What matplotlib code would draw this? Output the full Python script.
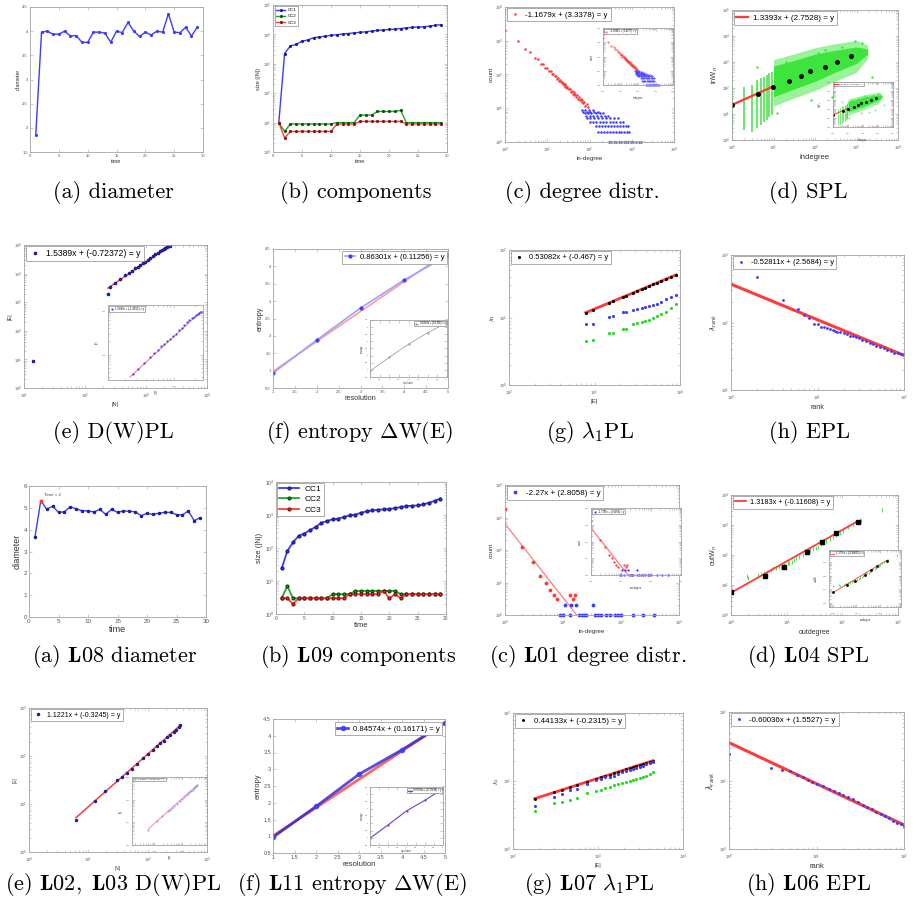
import numpy as np
import matplotlib
matplotlib.use("Agg")
import matplotlib.pyplot as plt
from matplotlib.ticker import FuncFormatter, NullFormatter

plt.rcParams["font.family"] = ["Liberation Sans", "DejaVu Sans"]

W, H = 916, 911
BLUE = "#3c3cff"
DARK = "#1c1c8a"
GREEN = "#1fa81f"
LIME = "#3ce43c"
RED = "#ff3a3a"
AXC = "#a3a3a3"

# ---------------- data, top block ----------------
time = np.arange(1, 30)
diam_top = [1.85, 3.98, 4.0, 3.94, 3.94, 4.0, 3.9, 3.91, 3.77, 3.77, 3.98, 3.98, 3.96, 3.77, 4.0,
            3.97, 4.18, 4.0, 3.89, 3.98, 3.92, 4.0, 3.98, 4.36, 3.98, 3.97, 4.08, 3.9, 4.08]
cc1_top = [10, 2240, 4070, 4570, 5890, 6460, 7760, 8130, 8710, 9330, 9770, 10230, 10720, 11220, 11750,
           12300, 12880, 13800, 14130, 14790, 15140, 15850, 16600, 17380, 17780, 18200, 19050, 20420, 21380]
cc2_top = [10, 5, 9, 9, 9, 9, 9, 9, 9, 9, 10, 10, 10, 10, 18, 18, 18, 24, 24, 24, 24, 26, 10, 10, 10, 10, 10, 10, 10]
cc3_top = [10, 3, 5, 5, 5, 5, 5, 5, 5, 5, 9, 9, 9, 9, 11, 11, 11, 11, 11, 11, 11, 11, 9, 9, 9, 9, 9, 9, 9]

# in-degree distribution (fitted part + tail)
deg_top = [1, 2, 3, 4, 5, 6, 7, 8, 9, 10, 11, 12, 13, 14, 15, 16, 17, 18, 19, 20, 21, 22, 23, 24, 25,
           26, 27, 28, 29, 30, 32, 34, 36, 38, 40, 42, 44, 46, 48, 50, 53, 56, 59, 62, 65, 68, 72, 76, 80, 85, 90]
cnt_top = [2100, 1000, 560, 450, 310, 280, 210, 200, 160, 155, 125, 128, 100, 106, 88, 90, 76, 79, 66, 70,
           60, 62, 52, 57, 48, 52, 44, 47, 40, 44, 36, 38, 31, 33, 27, 30, 24, 27, 22, 25, 19, 22, 17, 19,
           15, 18, 14, 15, 12, 13, 11]
tail_levels = [9, 8, 7, 6, 5, 4, 3, 2, 1]
tail_degs = [
    [68, 80, 95, 120],
    [72, 88, 105, 130, 160],
    [78, 92, 110, 140, 175, 210],
    [82, 100, 120, 150, 185, 230, 280],
    [85, 105, 130, 160, 200, 250, 310, 390, 470],
    [100, 120, 145, 175, 210, 250, 300, 360, 430, 520, 620],
    [140, 165, 195, 230, 270, 320, 380, 450, 530, 620, 720, 800],
    [160, 190, 225, 265, 310, 360, 420, 490, 570, 660, 760, 860],
    [290, 330, 380, 430, 490, 560, 640, 730, 830, 950, 1080, 1250, 1450, 1650],
]

# SPL cloud: strips at small degrees, dense core band and a thinner halo round it
strip_x = [1, 2, 3, 4, 5, 6, 7, 8, 9]
strip_lo = [1.0, 2.4, 2.1, 2.8, 3.8, 5.1, 5.9, 7.4, 9.1]
strip_hi = [260, 110, 130, 200, 240, 270, 315, 370, 420]
band_x = [10, 30, 100, 300, 1000, 1860]
band_lo = [46, 90, 180, 400, 890, 2000]
band_hi = [700, 1120, 2000, 2800, 3800, 3160]
halo_lo = [20, 40, 80, 180, 400, 1400]
halo_hi = [1240, 2000, 3550, 5000, 6750, 4500]
out_x = [933, 437, 170, 46, 19.5, 2400, 79, 12, 257, 660, 1350, 3.9, 120]
out_y = [6600, 3890, 2880, 1200, 1023, 275, 35, 10.7, 47, 83, 5250, 660, 2140]
bin_x = [1, 4.3, 9.5, 23.4, 45.7, 77.6, 170, 347, 741]
bin_y = [22.4, 58.9, 112, 186, 288, 447, 661, 1023, 1698]
spl_fit_x = [1, 9.5]
spl_fit_y = [22.4, 112]

# D(W)PL
dw_n = [14, 234, 258, 313, 378, 456, 518, 587, 667, 729, 807, 893, 975, 1065, 1178, 1304, 1425, 1556,
        1679, 1811, 1954, 2084, 2218, 2333, 2455]
dw_e = [9, 1950, 3520, 4600, 6520, 8980, 10840, 12730, 15350, 17540, 20050, 22910, 26240, 29990, 36140,
        41300, 47210, 54080, 60120, 66990, 70630, 78520, 85110, 89740, 94840]
dw_fit_x = [237, 2455]
dw_fit_y = [3090, 95000]

# entropy
res = [1, 2, 3, 4, 5]
ent_top = [0.93, 1.88, 2.8, 3.61, 4.32]
ent_fit_x = [1, 4.8]
ent_fit_y = [0.98, 4.25]

# lambda_1 power law
lam_E = [790, 950, 1490, 1660, 2130, 2330, 2840, 3100, 3560, 3890, 4380, 4880, 5420, 6040, 6860, 7850, 8980]
lam1 = [11.8, 13.0, 16.5, 17.5, 20.0, 20.9, 23.2, 24.4, 26.2, 27.5, 29.2, 31.0, 32.7, 34.7, 37.1, 39.9, 42.8]
lam2 = [7.9, 8.1, 10.1, 10.4, 12.1, 12.1, 13.1, 13.4, 13.9, 14.2, 14.7, 15.2, 15.9, 17.0, 18.5, 20.0, 21.4]
lam3 = [4.47, 4.62, 5.8, 5.9, 6.65, 6.8, 7.9, 8.15, 8.5, 8.8, 9.3, 9.9, 10.5, 11.3, 12.1, 13.6, 15.6]
lam_fit_x = [790, 8980]
lam_fit_y = [11.8, 42.8]

# eigenvalue power law
rank_top = [2, 4, 6, 7, 8, 9, 10, 11, 12, 13, 14, 15, 16, 17, 18, 20, 22, 24, 26, 28, 30, 33, 36, 40,
            44, 48, 53, 58, 64, 70, 77, 85, 92, 100]
eig_top = [467, 215, 158, 129, 115, 95, 95, 87, 85, 82, 79, 77.4, 74.8, 73.1, 71.5, 69.2, 66.8, 63.8,
           62.4, 60.3, 58.2, 55.7, 53.2, 50.2, 47.5, 45.4, 43.4, 41.4, 39.2, 37.4, 35.7, 34.9, 34.5, 34.5]
eig_fit_x = [1, 100]
eig_fit_y = [370, 32.6]

# ---------------- data, bottom block ----------------
diam_bot = [3.65, 5.33, 4.93, 5.08, 4.79, 4.82, 5.05, 4.95, 4.87, 4.86, 4.81, 4.93, 4.70, 4.93, 4.79,
            4.86, 4.84, 4.82, 4.64, 4.75, 4.70, 4.75, 4.79, 4.79, 4.69, 4.67, 4.86, 4.41, 4.55]
cc1_bot = [24, 81, 148, 234, 275, 347, 437, 575, 661, 741, 776, 871, 977, 1023, 1175, 1288, 1380, 1445,
           1479, 1514, 1622, 1738, 1862, 1905, 1950, 2089, 2344, 2692, 3162]
cc2_bot = [3, 7, 3, 3, 3, 3, 3, 3, 3, 4, 4, 4, 4, 5, 5, 5, 5, 5, 5, 5, 5, 4, 4, 4, 4, 4, 4, 4, 4]
cc3_bot = [3, 3, 2, 3, 3, 3, 3, 3, 3, 3, 3, 3, 4, 4, 4, 4, 4, 4, 5, 3, 4, 3, 4, 4, 4, 4, 4, 4, 4]

deg_red_bot = [1, 2, 3, 4, 5, 6, 7, 8, 13, 15, 16]
cnt_red_bot = [1780, 120, 44, 16, 10, 6, 4, 3, 4, 3, 4]
deg_two_bot = [11, 14, 17, 33]
deg_one_bot = [9, 10, 13, 19, 21, 23, 25, 35, 40, 46, 56, 64, 78, 89, 100, 159, 235, 372]
deg_fit_x = [1, 17.2]
deg_fit_y = [640, 1.0]

out_deg = [1, 1.9, 2.06, 3.0, 3.4, 3.9, 4.5, 5.2, 5.6, 6.4, 7.2, 7.9, 9.1, 10.4, 11.2, 12.5, 13.8, 14.8,
           17, 19.5, 22.3, 24, 26.4, 29.5, 33, 36.3, 41.7, 44.8, 51.4, 59, 67.8, 78, 89.5, 103, 126, 156,
           206, 220, 507]
out_w = [16.6, 20, 17.4, 21.4, 23.4, 24.5, 27.5, 31.6, 36.3, 36.3, 38.9, 40.7, 46.8, 52.5, 55, 60.3,
         67.6, 77.6, 87, 100, 115, 129, 148, 155, 166, 191, 229, 257, 302, 331, 389, 468, 550, 631, 832,
         1072, 1479, 1380, 3162]
out_bin_x = [1, 4, 9.1, 23.4, 42.7, 77.6, 190]
out_bin_y = [6.0, 20, 40.7, 123, 263, 550, 1288]
out_fit_x = [1, 190]
out_fit_y = [5.5, 1350]

nodes_bot = [6.2, 12.9, 19, 30.2, 36.3, 44.7, 53.7, 66, 85, 102, 123, 141, 162, 186, 209, 240, 275, 302, 331, 355]
edges_bot = [4.6, 11.5, 18.6, 30.9, 36.3, 43.7, 53.7, 67.6, 89, 110, 135, 158, 186, 209, 245, 275, 316, 355, 398, 437]
ne_fit_x = [6.2, 355]
ne_fit_y = [5.2, 437]

ent_bot = [0.97, 1.89, 2.85, 3.58, 4.38]
ent_fit2_x = [1, 4.85]
ent_fit2_y = [1.01, 4.26]

lam_E2 = [180, 301, 374, 464, 566, 750, 955, 1094, 1219, 1371, 1528, 1718, 1914, 2113, 2360, 2582,
          2825, 3090, 3381, 3707, 4055, 4436]
lam1b = [5.5, 6.8, 7.4, 8.05, 8.7, 9.75, 10.7, 11.3, 11.8, 12.4, 13.0, 13.6, 14.2, 14.8, 15.4, 16.0,
         16.6, 17.2, 17.8, 18.5, 19.2, 19.9]
lam2b = [4.26, 5.8, 6.5, 7.3, 7.7, 8.9, 10.5, 10.7, 11.4, 11.6, 12.0, 12.7, 13.4, 13.9, 14.5, 15.0,
         15.5, 16.2, 16.8, 17.8, 18.4, 19.2]
lam3b = [3.65, 4.76, 4.98, 5.2, 5.7, 6.65, 7.1, 7.4, 7.95, 8.3, 8.6, 9.1, 9.3, 9.6, 9.95, 10.4, 10.7,
         11.1, 11.4, 12.0, 12.7, 13.4]
lam_fit2_x = [180, 4436]
lam_fit2_y = [5.5, 19.9]

rank_bot = [1, 3, 4, 5, 6, 7, 8, 9, 10, 12, 14, 16, 18, 20, 23, 26, 30, 34, 38, 43, 48, 54, 60, 67, 75, 84, 92, 100]
eig_bot = [24, 15.3, 14.0, 13.7, 12.1, 11.1, 10.2, 9.56, 9.04, 8.26, 7.55, 7.06, 6.6, 6.24, 5.77, 5.33,
           4.88, 4.46, 4.12, 3.80, 3.52, 3.25, 3.04, 2.81, 2.60, 2.43, 2.30, 2.17]
eig_fit2_x = [1, 100]
eig_fit2_y = [35.7, 2.25]

captions_top = ["(a) diameter", "(b) components", "(c) degree distr.", "(d) SPL",
                "(e) D(W)PL", r"(f) entropy $\Delta$W(E)", r"(g) $\lambda_1$PL", "(h) EPL"]
captions_bot = [r"(a) $\mathbf{L08}$ diameter", r"(b) $\mathbf{L09}$ components",
                r"(c) $\mathbf{L01}$ degree distr.", r"(d) $\mathbf{L04}$ SPL",
                r"(e) $\mathbf{L02,\ L03}$ D(W)PL", r"(f) $\mathbf{L11}$ entropy $\Delta$W(E)",
                r"(g) $\mathbf{L07}$ $\lambda_1$PL", r"(h) $\mathbf{L06}$ EPL"]

fig = plt.figure(figsize=(W / 100, H / 100), dpi=100)


def box(l, t, r, b):
    return fig.add_axes([l / W, 1 - b / H, (r - l) / W, (b - t) / H])


def matlab(ax, fs=3, logx=False, logy=False):
    if logx:
        ax.set_xscale("log")
    if logy:
        ax.set_yscale("log")
    for s in ax.spines.values():
        s.set_color(AXC)
        s.set_linewidth(0.6)
    ax.tick_params(which="both", direction="in", top=True, right=True, color=AXC,
                   labelcolor="#555555", labelsize=fs, width=0.4, pad=1.5)
    if logx:
        ax.tick_params(axis="x", pad=2.6)
    ax.tick_params(which="major", length=2.2)
    ax.tick_params(which="minor", length=1.2)
    g = FuncFormatter(lambda v, _: f"{v:g}")
    if logx:
        ax.xaxis.set_minor_formatter(NullFormatter())
    else:
        ax.xaxis.set_major_formatter(g)
    if logy:
        ax.yaxis.set_minor_formatter(NullFormatter())
    else:
        ax.yaxis.set_major_formatter(g)


def labels(ax, xl, yl, fs):
    ax.set_xlabel(xl, fontsize=fs, labelpad=1, color="#333333")
    ax.set_ylabel(yl, fontsize=fs, labelpad=1, color="#333333")


def leg(ax, fs, loc="upper left", anchor=(0.01, 0.99), **kw):
    opts = dict(loc=loc, bbox_to_anchor=anchor, fontsize=fs, fancybox=False, edgecolor="#8c8c8c",
                framealpha=1, borderpad=0.35, handlelength=1.4, handletextpad=0.6, borderaxespad=0)
    opts.update(kw)
    lg = ax.legend(**opts)
    lg.get_frame().set_linewidth(0.5)
    return lg


def caption(x, y, s):
    fig.text(x / W, 1 - y / H, s, ha="center", va="center", fontsize=16,
             family="cmr10", math_fontfamily="cm")


# ================= row 1 =================
ax = box(30, 7, 203, 152)
matlab(ax, 3)
ax.plot(time, diam_top, color=BLUE, lw=1, marker=".", ms=2.5)
ax.set_xlim(0, 30)
ax.set_ylim(1.5, 4.5)
labels(ax, "time", "diameter", 4)

ax = box(273, 5, 447, 152)
matlab(ax, 3, logy=True)
ax.plot(time, cc1_top, color=BLUE, lw=1, marker=".", ms=2.5, mec=DARK, label="CC1")
ax.plot(time, cc2_top, color=GREEN, lw=1, marker=".", ms=2.5, mec="#0b4f0b", label="CC2")
ax.plot(time, cc3_top, color=RED, lw=1, marker=".", ms=2.5, mec="#8a1010", label="CC3")
ax.set_xlim(0, 30)
ax.set_ylim(1, 1e5)
labels(ax, "time", "size (|N|)", 4)
leg(ax, 3.2, handlelength=2)


def degree_top(ax, ms, with_label):
    ax.plot(deg_top, cnt_top, ".", color=RED, ms=ms,
            label="-1.1679x + (3.3378) = y" if with_label else "-1.3666x + (3.4377) = y")
    for lev, degs in zip(tail_levels, tail_degs):
        ax.plot(degs, [lev] * len(degs), ".", color=BLUE, ms=ms, clip_on=False)
    ax.set_xlim(1, 1e4)
    ax.set_ylim(1, 1e4)


ax = box(505, 7, 674, 142)
matlab(ax, 3, True, True)
degree_top(ax, 1.6, True)
labels(ax, "in-degree", "count", 4.5)
leg(ax, 5.7)
ins = box(603, 28, 673, 85)
matlab(ins, 1.6, True, True)
degree_top(ins, 0.8, False)
labels(ins, "in-degree", "count", 1.8)
leg(ins, 1.8)


def spl_top(ax, lw, ms, lab):
    ax.fill_between(band_x, halo_lo, halo_hi, color="#9af29a", lw=0)
    ax.fill_between(band_x, band_lo, band_hi, color=LIME, lw=0)
    ax.vlines(strip_x, strip_lo, strip_hi, color=LIME, lw=lw)
    ax.plot(out_x, out_y, ".", color=LIME, ms=ms)
    ax.plot(spl_fit_x, spl_fit_y, color=RED, lw=1.5 * lw, label=lab)
    ax.plot(bin_x, bin_y, "o", color="black", ms=1.8 * ms)
    ax.set_xlim(1, 1e4)
    ax.set_ylim(1, 1e5)


ax = box(732, 10, 898, 140)
matlab(ax, 3, True, True)
spl_top(ax, 1.1, 1.4, "1.3393x + (2.7528) = y")
labels(ax, "indegree", "inW$_n$", 5.5)
leg(ax, 5.8)
ins = box(833, 82, 893, 127)
matlab(ins, 1.5, True, True)
spl_top(ins, 0.5, 0.6, "1.2701x + (2.6638) = y")
labels(ins, "indegree", "inW$_n$", 1.8)
leg(ins, 1.7)

# ================= row 2 =================
ax = box(24, 245, 207, 388)
matlab(ax, 3, True, True)
ax.plot(dw_fit_x, dw_fit_y, color=RED, lw=1)
ax.plot(dw_n, dw_e, ".", color=DARK, mfc=BLUE, ms=3.2, label="1.5389x + (-0.72372) = y")
ax.set_xlim(10, 1e4)
ax.set_ylim(1, 1e5)
labels(ax, "|N|", "|E|", 4)
leg(ax, 6.2)
ins = box(108, 305, 203, 380)
matlab(ins, 1.6, True, True)
ins.plot(dw_fit_x, dw_fit_y, color="#ff7070", lw=0.7)
ins.plot(dw_n, dw_e, ".", color=BLUE, ms=1.2, label="1.5889x + (-1.4551) = y")
ins.set_xlim(10 ** 2.06, 10 ** 3.42)
ins.set_ylim(10 ** 3.42, 10 ** 5.13)
labels(ins, "|N|", "|E|", 2)
leg(ins, 2)

ax = box(273, 249, 448, 388)
matlab(ax, 3)
ax.plot(ent_fit_x, ent_fit_y, color="#ff9c9c", lw=1.2)
ax.plot(res, ent_top, color="#a0a0ff", lw=1.2, marker=".", ms=4, mfc=BLUE, mec=BLUE,
        label="0.86301x + (0.11256) = y")
ax.set_xlim(1, 5)
ax.set_ylim(0.5, 4.5)
labels(ax, "resolution", "entropy", 5.3)
leg(ax, 5.5, "upper right", (0.995, 0.985))
ins = box(370, 320, 447, 377)
matlab(ins, 1.6)
ins.plot(res, ent_top, color="#909090", lw=0.5, marker=".", ms=1, label="0.8301x + (0.1256) = y")
ins.set_xlim(1, 5)
ins.set_ylim(0.5, 4.5)
labels(ins, "resolution", "entropy", 1.8)
leg(ins, 1.8, "upper right", (0.99, 0.99))

ax = box(509, 250, 680, 385)
matlab(ax, 3, True, True)
ax.plot(lam_fit_x, lam_fit_y, color=RED, lw=2)
ax.plot(lam_E, lam1, ".", color="black", ms=2.5, label="0.53082x + (-0.467) = y")
ax.plot(lam_E, lam2, ".", color=BLUE, ms=2.5)
ax.plot(lam_E, lam3, ".", color="#22dd22", ms=2.5)
ax.set_xlim(1e2, 1e4)
ax.set_ylim(1, 1e2)
labels(ax, "|E|", r"$\lambda_1$", 4.5)
leg(ax, 5.5)

ax = box(731, 255, 904, 390)
matlab(ax, 3, True, True)
ax.plot(eig_fit_x, eig_fit_y, color=RED, lw=2.2)
ax.plot(rank_top, eig_top, ".", color=BLUE, ms=2, label="-0.52811x + (2.5684) = y")
ax.set_xlim(1, 100)
ax.set_ylim(10, 1000)
labels(ax, "rank", r"$\lambda_{rank}$", 5)
leg(ax, 5.5)

# ================= row 3 =================
ax = box(29, 486, 206, 617)
matlab(ax, 4.5)
ax.plot(time, diam_bot, color=BLUE, lw=1, marker=".", ms=3, mec=DARK)
ax.plot(time[1], diam_bot[1], "s", color=RED, ms=2)
ax.annotate("Time = 2", xy=(time[1], diam_bot[1]), xytext=(2, 3), textcoords="offset points",
            fontsize=3.2, color="#444444")
ax.set_xlim(0, 30)
ax.set_ylim(0, 6)
labels(ax, "time", "diameter", 6.5)

ax = box(276, 482, 446, 614)
matlab(ax, 3.5, logy=True)
ax.plot(time, cc1_bot, color=BLUE, lw=1.3, marker=".", ms=4, mec=DARK, label="CC1")
ax.plot(time, cc2_bot, color=GREEN, lw=1.3, marker=".", ms=4, mec="#0b4f0b", label="CC2")
ax.plot(time, cc3_bot, color=RED, lw=1.3, marker=".", ms=4, mec="#8a1010", label="CC3")
ax.set_xlim(0, 30)
ax.set_ylim(1, 1e4)
labels(ax, "time", "size (|N|)", 5.5)
leg(ax, 6, anchor=(0.005, 0.995), handlelength=2.4, labelspacing=0.3, borderpad=0.3)


def degree_bot(ax, ms, lab):
    ax.plot(deg_fit_x, deg_fit_y, color="#ff7c7c", lw=0.9)
    ax.plot(deg_red_bot, cnt_red_bot, ".", color=RED, ms=ms)
    ax.plot(deg_two_bot, [2] * len(deg_two_bot), ".", color=BLUE, ms=ms)
    ax.plot(deg_one_bot, [1] * len(deg_one_bot), ".", color=BLUE, ms=ms, clip_on=False, label=lab)
    ax.set_xlim(1, 1e3)
    ax.set_ylim(1, 1e4)


ax = box(505, 485, 679, 615)
matlab(ax, 3, True, True)
degree_bot(ax, 3.5, "-2.27x + (2.8058) = y")
labels(ax, "in-degree", "count", 4.5)
leg(ax, 5.8)
ins = box(591, 508, 681, 575)
matlab(ins, 1.6, True, True)
degree_bot(ins, 1.3, "-1.7789x + (2.6493) = y")
labels(ins, "out-degree", "count", 1.8)
leg(ins, 1.8)


def spl_bot(ax, ms, lw, lab):
    ax.plot(out_deg, out_w, "|", color="#33dd33", ms=ms * 1.6, mew=0.6)
    ax.plot(out_fit_x, out_fit_y, color=RED, lw=lw, label=lab)
    ax.plot(out_bin_x, out_bin_y, "s", color="black", ms=ms)
    ax.set_xlim(1, 1e3)
    ax.set_ylim(1, 1e4)


ax = box(731, 495, 898, 615)
matlab(ax, 3, True, True)
spl_bot(ax, 2.2, 1.3, "1.3183x + (-0.11608) = y")
labels(ax, "outdegree", "outW$_n$", 5)
leg(ax, 5.3)
ins = box(829, 550, 901, 607)
matlab(ins, 1.6, True, True)
spl_bot(ins, 0.9, 0.6, "1.3776x + (-0.84632) = y")
ins.set_xlim(0.7, 780)
ins.set_ylim(0.5, 7900)
labels(ins, "outdegree", "outW$_n$", 1.8)
leg(ins, 1.8)

# ================= row 4 =================
ax = box(29, 708, 207, 852)
matlab(ax, 3, True, True)
ax.plot(ne_fit_x, ne_fit_y, color=RED, lw=1.1)
ax.plot(nodes_bot, edges_bot, ".", color=DARK, mfc=BLUE, ms=3, label="1.1221x + (-0.3245) = y")
ax.set_xlim(1, 1e3)
ax.set_ylim(1, 1e3)
labels(ax, "|N|", "|E|", 3.5)
leg(ax, 5)
ins = box(132, 777, 207, 845)
matlab(ins, 1.6, True, True)
ins.plot(ne_fit_x, ne_fit_y, color="#ff8a8a", lw=0.7)
ins.plot(nodes_bot, edges_bot, ".", color="#8080ff", ms=0.8, label="1.1665x + (-0.35778) = y")
ins.set_xlim(10 ** 0.2, 10 ** 2.9)
ins.set_ylim(1, 1e3)
labels(ins, "|N|", "|E|", 1.8)
leg(ins, 1.7)

ax = box(273, 719, 445, 853)
matlab(ax, 4)
ax.plot(ent_fit2_x, ent_fit2_y, color="#ff4a4a", lw=2, alpha=0.85)
ax.plot(res, ent_bot, color="#2424dd", lw=2, alpha=0.8, marker="o", ms=3, mfc=BLUE, mec=BLUE,
        label="0.84574x + (0.16171) = y")
ax.set_xlim(1, 5)
ax.set_ylim(0.5, 4.5)
labels(ax, "resolution", "entropy", 5.5)
leg(ax, 5.6, "upper right", (0.985, 0.975))
ins = box(370, 787, 443, 845)
matlab(ins, 1.6)
ins.plot(res, ent_bot, color="#7040c0", lw=0.8, marker=".", ms=1.2, label="0.87366x + (0.17616) = y")
ins.set_xlim(1, 5)
ins.set_ylim(0.5, 4.5)
labels(ins, "resolution", "entropy", 1.8)
leg(ins, 1.8, "upper right", (0.99, 0.99))

ax = box(513, 713, 683, 849)
matlab(ax, 3, True, True)
ax.plot(lam_fit2_x, lam_fit2_y, color=RED, lw=2)
ax.plot(lam_E2, lam1b, ".", color="black", ms=2.2, label="0.44133x + (-0.2315) = y")
ax.plot(lam_E2, lam2b, ".", color=BLUE, ms=2.5)
ax.plot(lam_E2, lam3b, ".", color="#22dd22", ms=2.5)
ax.set_xlim(1e2, 1e4)
ax.set_ylim(1, 1e2)
labels(ax, "|E|", r"$\lambda_1$", 4)
leg(ax, 5.8)

ax = box(729, 712, 904, 849)
matlab(ax, 3, True, True)
ax.plot(eig_fit2_x, eig_fit2_y, color=RED, lw=2.2)
ax.plot(rank_bot, eig_bot, ".", color=BLUE, ms=2.2, label="-0.60036x + (1.5527) = y")
ax.set_xlim(1, 100)
ax.set_ylim(1, 100)
labels(ax, "rank", r"$\lambda_{rank}$", 5.5)
leg(ax, 5.7)

# ================= captions =================
for s, x in zip(captions_top[:4], [113, 356, 582, 808]):
    caption(x, 192, s)
for s, x in zip(captions_top[4:], [113, 360, 590, 810]):
    caption(x, 432, s)
for s, x in zip(captions_bot[:4], [115, 358, 588, 808]):
    caption(x, 657, s)
for s, x in zip(captions_bot[4:], [113, 352, 590, 809]):
    caption(x, 884, s)

fig.savefig("out.png", dpi=100)
